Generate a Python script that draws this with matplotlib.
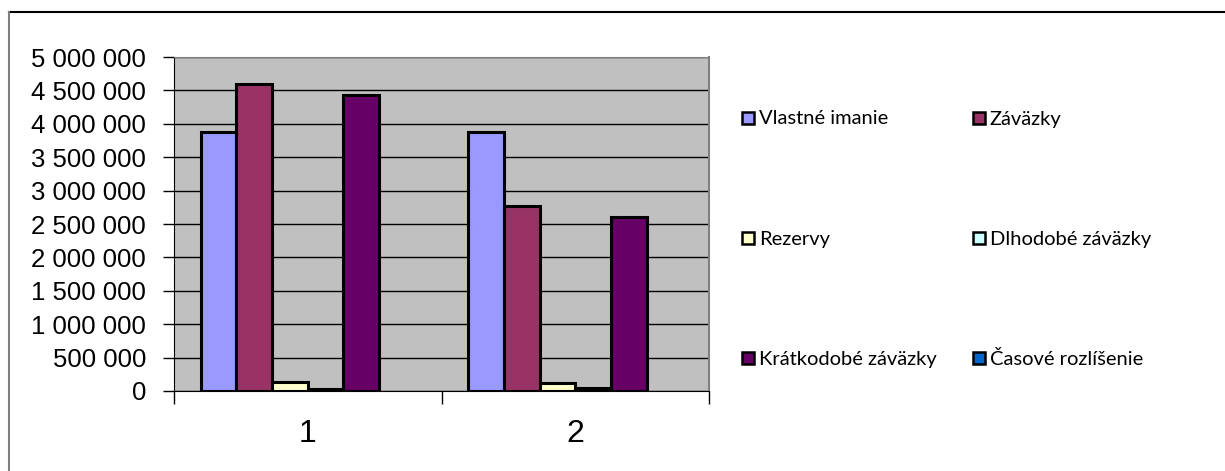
import matplotlib
matplotlib.use("Agg")
import matplotlib.pyplot as plt
from matplotlib.patches import Rectangle
from matplotlib.lines import Line2D
from matplotlib.ticker import FuncFormatter, FixedLocator, NullFormatter
import numpy as np

categories = ["1", "2"]
series_names = ["Vlastné imanie", "Záväzky", "Rezervy", "Dlhodobé záväzky",
                "Krátkodobé záväzky", "Časové rozlíšenie"]
vlastne_imanie = [3877000, 3873000]
zavazky = [4596000, 2769000]
rezervy = [130000, 125000]
dlhodobe = [35000, 40000]
kratkodobe = [4431000, 2609000]
casove = [0, 0]
series_values = [vlastne_imanie, zavazky, rezervy, dlhodobe, kratkodobe, casove]
colors = ["#9999FF", "#993366", "#FFFFCC", "#CCFFFF", "#660066", "#0066CC"]
y_ticks = list(range(0, 5000001, 500000))

W, H = 1225, 471
fig = plt.figure(figsize=(W / 100, H / 100), dpi=100)
fig.patch.set_facecolor("white")

ax = fig.add_axes([174 / W, 1 - 391 / H, (709 - 174) / W, (391 - 57) / H])
ax.set_facecolor("#C0C0C0")

x = np.arange(len(categories))
n = len(series_values)
w = 1 / (n + 1.5)
for i, (vals, c) in enumerate(zip(series_values, colors)):
    lws = [2.2 if v > 0 else 0 for v in vals]
    ax.bar(x + (i - (n - 1) / 2) * w, vals, width=w, color=c,
           edgecolor="black", linewidth=lws, zorder=3)

ax.set_xlim(-0.5, len(categories) - 0.5)
ax.set_ylim(0, 5000000)
ax.yaxis.set_major_locator(FixedLocator(y_ticks))
ax.yaxis.set_major_formatter(FuncFormatter(lambda v, p: f"{int(v):,}".replace(",", " ")))
ax.grid(axis="y", color="black", linewidth=1.0, zorder=1)
ax.set_axisbelow(True)

ax.xaxis.set_major_locator(FixedLocator(np.arange(len(categories) + 1) - 0.5))
ax.xaxis.set_major_formatter(NullFormatter())
ax.xaxis.set_minor_locator(FixedLocator(x))
ax.set_xticklabels(categories, minor=True)
ax.tick_params(axis="x", which="major", direction="out", length=9, width=1, color="black")
ax.tick_params(axis="x", which="minor", length=0, pad=20, labelsize=23)
ax.tick_params(axis="y", direction="out", length=8, width=1, color="black",
               labelsize=18.5, pad=12)
for lbl in ax.get_xticklabels(minor=True) + ax.get_yticklabels():
    lbl.set_fontfamily("Liberation Sans")

ax.spines["left"].set_color("black")
ax.spines["bottom"].set_color("black")
ax.spines["right"].set_color("#808080")
ax.spines["right"].set_linewidth(1.5)
ax.spines["top"].set_color("#808080")

# outer chart frame (top and left visible)
fig.add_artist(Line2D([9 / W, 1], [1 - 12 / H, 1 - 12 / H], transform=fig.transFigure,
                      color="black", linewidth=1.5))
fig.add_artist(Line2D([9 / W, 9 / W], [0, 1 - 12 / H], transform=fig.transFigure,
                      color="#808080", linewidth=1.5))

# legend, 2 columns x 3 rows
col_x = [742, 973]
row_y = [118, 238, 358]
sq = 12
for i, (name, c) in enumerate(zip(series_names, colors)):
    cx = col_x[i % 2]
    cy = row_y[i // 2]
    fig.add_artist(Rectangle((cx / W, 1 - (cy + sq / 2) / H), sq / W, sq / H,
                             transform=fig.transFigure, facecolor=c,
                             edgecolor="black", linewidth=1.8))
    fig.text((cx + sq + 5) / W, 1 - (cy + 1) / H, name, fontsize=14.5, family="Lato",
             va="center", ha="left", color="black")

fig.savefig("out.png", dpi=100, facecolor="white")
